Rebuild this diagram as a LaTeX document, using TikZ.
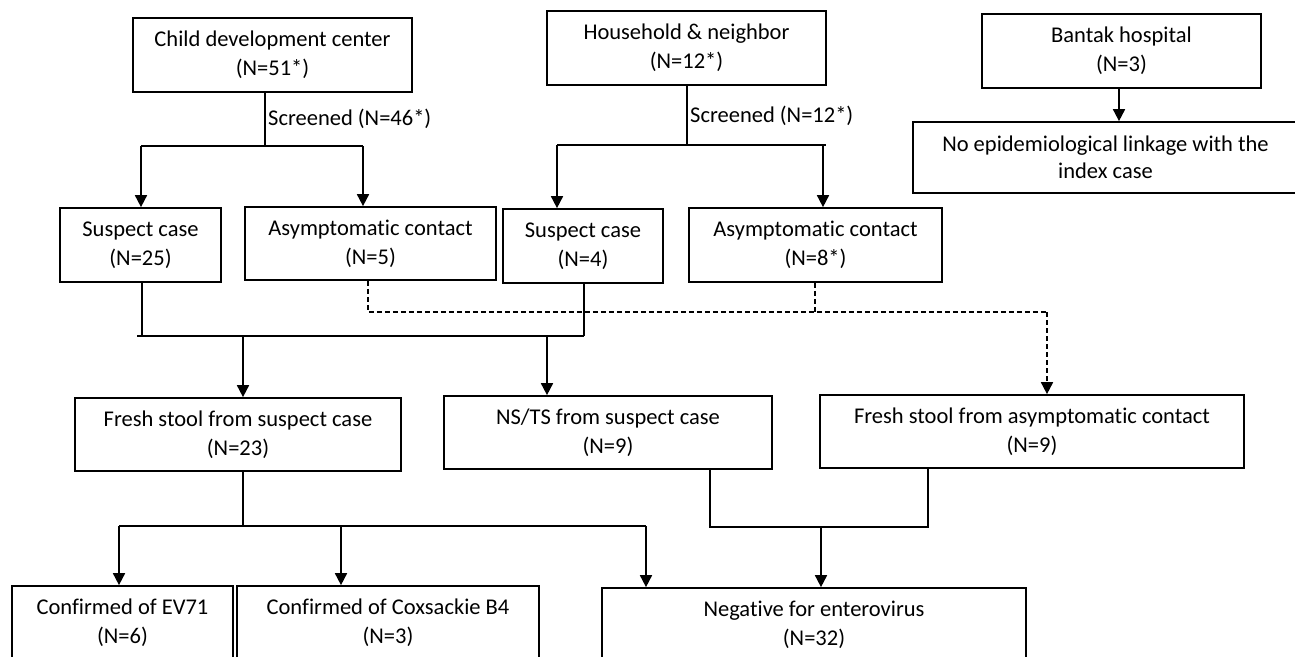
\documentclass[tikz,border=0pt]{standalone}
\usepackage{fontspec}
\setmainfont{Carlito}[Ligatures={NoCommon}]
\usetikzlibrary{arrows.meta,calc}
\begin{document}
\begin{tikzpicture}[x=1pt,y=-1pt,
 box/.style={draw,line width=1.7pt,rectangle,inner sep=0pt,align=center,font=\fontsize{22.5}{29}\selectfont},
 link/.style={line width=1.7pt},
 arr/.style={link,-{Triangle[width=12pt,length=12pt]}},
 dlink/.style={line width=1.7pt,dash pattern=on 5pt off 3pt},
 lbl/.style={inner sep=0pt,anchor=west,font=\fontsize{22.5}{29}\selectfont}]
\useasboundingbox (0,0) rectangle (1295,656);
\clip (0,0) rectangle (1295,656);
\fill[white] (0,0) rectangle (1295,656);
% row 1
\node[box,minimum width=279pt,minimum height=74pt] (cdc) at (272.5,55) {Child development center\\(N=51*)};
\node[box,minimum width=279pt,minimum height=74pt] (hh) at (686.5,48) {Household \& neighbor\\(N=12*)};
\node[box,minimum width=279pt,minimum height=74pt] (bantak) at (1121.5,51) {Bantak hospital\\(N=3)};
\node[box,minimum width=385pt,minimum height=71pt,font=\fontsize{22.5}{27}\selectfont] (noepi) at (1105.5,157.5) {No epidemiological linkage with the\\index case};
% row 2
\node[box,minimum width=161pt,minimum height=74pt] (s25) at (140.5,245) {Suspect case\\(N=25)};
\node[box,minimum width=251pt,minimum height=73pt] (a5) at (370.5,243.5) {Asymptomatic contact\\(N=5)};
\node[box,minimum width=160pt,minimum height=74pt] (s4) at (583,246) {Suspect case\\(N=4)};
\node[box,minimum width=253pt,minimum height=74pt] (a8) at (815.5,245) {Asymptomatic contact\\(N=8*)};
% row 3
\node[box,minimum width=326pt,minimum height=73pt] (fs) at (238,434.5) {Fresh stool from suspect case\\(N=23)};
\node[box,minimum width=328pt,minimum height=73pt] (ns) at (608,432.5) {NS/TS from suspect case\\(N=9)};
\node[box,minimum width=424pt,minimum height=73pt] (fsa) at (1032,431.5) {Fresh stool from asymptomatic contact\\(N=9)};
% row 4
\node[box,minimum width=221pt,minimum height=74pt] (ev) at (122.5,623) {Confirmed of EV71\\(N=6)};
\node[box,minimum width=302pt,minimum height=74pt] (cox) at (388,623) {Confirmed of Coxsackie B4\\(N=3)};
\node[box,minimum width=424pt,minimum height=74pt] (neg) at (814,625) {Negative for enterovirus\\(N=32)};
% child development center split
\coordinate (c1) at (265,146);
\coordinate (c1l) at (141,146);
\coordinate (c1r) at (363,146);
\draw[link] (cdc.south -| c1) -- (c1);
\draw[link] (c1l) -- (c1r);
\draw[arr] (c1l) -- (s25.north -| c1l);
\draw[arr] (c1r) -- (a5.north -| c1r);
\node[lbl] (scr1) at (268,119) {Screened (N=46*)};
% household split
\coordinate (c2) at (687,145);
\coordinate (c2l) at (557,145);
\coordinate (c2r) at (823,145);
\coordinate (c2e) at (826,145);
\draw[link] (hh.south -| c2) -- (c2);
\draw[link] (c2l) -- (c2e);
\draw[arr] (c2l) -- (s4.north -| c2l);
\draw[arr] (c2r) -- (a8.north -| c2r);
\node[lbl] (scr2) at (690,116) {Screened (N=12*)};
% bantak
\coordinate (c3) at (1119,100);
\draw[arr] (bantak.south -| c3) -- (noepi.north -| c3);
% suspect cases to samples
\coordinate (c4a) at (142,336);
\coordinate (c4b) at (584,336);
\coordinate (c4l) at (137,336);
\coordinate (c4f) at (243,336);
\coordinate (c4n) at (547,336);
\draw[link] (s25.south -| c4a) -- (c4a);
\draw[link] (s4.south -| c4b) -- (c4b);
\draw[link] (c4l) -- (c4b);
\draw[arr] (c4f) -- (fs.north -| c4f);
\draw[arr] (c4n) -- (ns.north -| c4n);
% asymptomatic contacts (dashed)
\coordinate (d1) at (368,312);
\coordinate (d2) at (815,312);
\coordinate (d3) at (1047,312);
\draw[dlink] (a5.south -| d1) -- (d1) -- (d3);
\draw[dlink] (a8.south -| d2) -- (d2);
\draw[dlink,-{Triangle[width=12pt,length=12pt]}] (d3) -- (fsa.north -| d3);
% fresh stool results
\coordinate (c5) at (243,526);
\coordinate (c5l) at (119,526);
\coordinate (c5m) at (341,526);
\coordinate (c5r) at (646,526);
\draw[link] (fs.south -| c5) -- (c5);
\draw[link] (c5l) -- (c5r);
\draw[arr] (c5l) -- (ev.north -| c5l);
\draw[arr] (c5m) -- (cox.north -| c5m);
\draw[arr] (c5r) -- (neg.north -| c5r);
% NS/TS and asymptomatic stool results
\coordinate (c6a) at (710,527);
\coordinate (c6b) at (928,527);
\coordinate (c6m) at (821,527);
\draw[link] (ns.south -| c6a) -- (c6a) -- (c6b) -- (fsa.south -| c6b);
\draw[arr] (c6m) -- (neg.north -| c6m);
\end{tikzpicture}
\end{document}
